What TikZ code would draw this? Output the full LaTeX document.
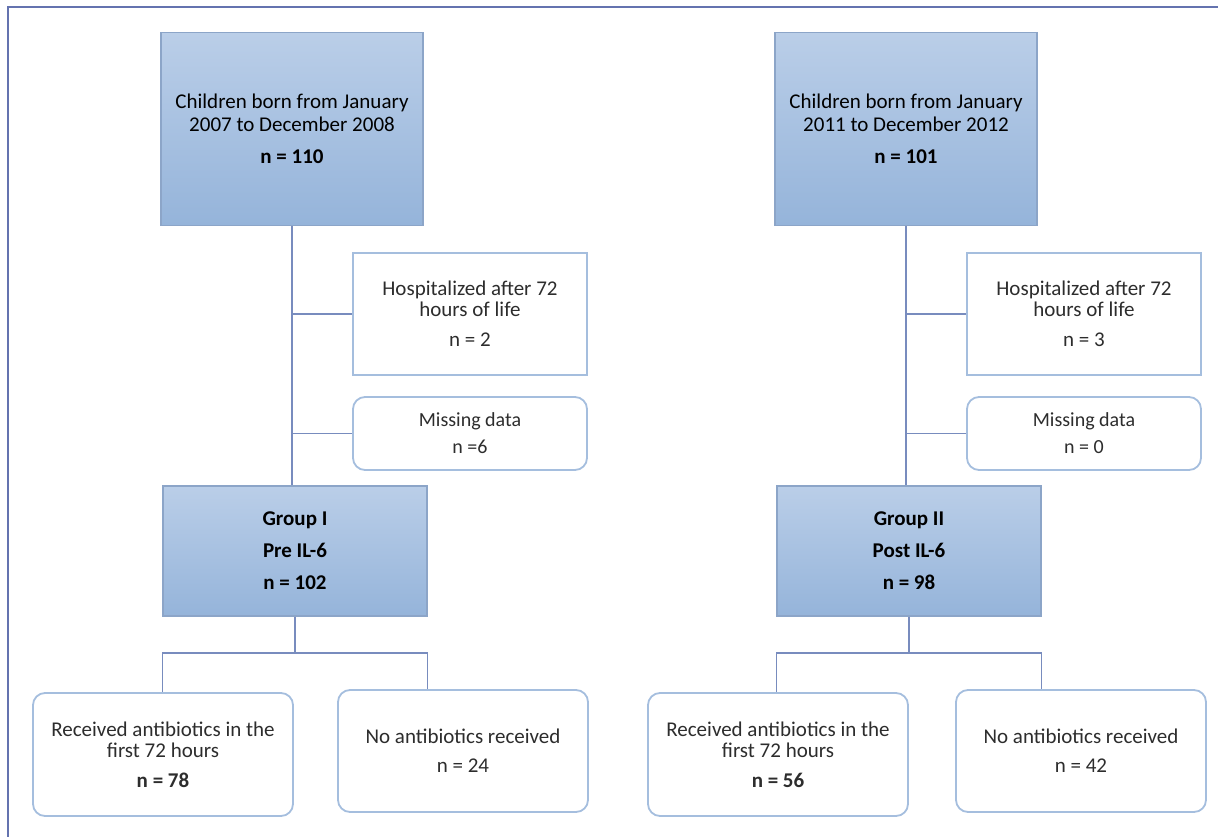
\documentclass[tikz,border=0pt]{standalone}
\usepackage{fontspec}
\setmainfont{Carlito}
\definecolor{framec}{RGB}{100,115,175}
\definecolor{linec}{RGB}{120,140,190}
\definecolor{bluetop}{RGB}{186,206,232}
\definecolor{bluebot}{RGB}{149,180,218}
\definecolor{blueedge}{RGB}{140,165,200}
\definecolor{whiteedge}{RGB}{165,190,222}
\definecolor{txt}{RGB}{45,45,45}
\tikzset{
  bluebox/.style={draw=blueedge, line width=1.2pt, top color=bluetop, bottom color=bluebot,
    align=center, inner sep=0pt, text=black},
  whitebox/.style={draw=whiteedge, line width=1.8pt, fill=white, align=center, inner sep=0pt, text=txt},
  roundbox/.style={whitebox, rounded corners=12pt},
  conn/.style={draw=linec, line width=1.3pt},
  bigtxt/.style={font=\fontsize{21}{23}\selectfont},
  grptxt/.style={font=\bfseries\fontsize{21}{32}\selectfont},
  midtxt/.style={font=\fontsize{21}{21}\selectfont},
  smtxt/.style={font=\fontsize{20}{21}\selectfont},
}
\begin{document}
\begin{tikzpicture}[x=1pt,y=-1pt]
\useasboundingbox (0,0) rectangle (1218,837);
\draw[framec, line width=2pt] (8,837) -- (8,7) -- (1218,7);

% ---------- left column ----------
\node[bluebox, bigtxt, minimum width=262pt, minimum height=193pt] (tA) at (292,129)
  {Children born from January\\2007 to December 2008\\[9pt]\textbf{n = 110}};
\node[whitebox, midtxt, minimum width=234pt, minimum height=122pt] (hA) at (470,314)
  {Hospitalized after 72\\hours of life\\[9pt]n = 2};
\node[roundbox, smtxt, minimum width=234pt, minimum height=73pt] (mA) at (470,433.5)
  {Missing data\\[6pt]n =6};
\node[bluebox, grptxt, minimum width=264pt, minimum height=130pt] (gA) at (295,551)
  {Group I\\Pre IL-6\\n = 102};
\node[roundbox, midtxt, minimum width=260pt, minimum height=123pt] (rA) at (163,754.5)
  {Received antibiotics in the\\first 72 hours\\[9pt]\textbf{n = 78}};
\node[roundbox, midtxt, minimum width=250pt, minimum height=122pt] (nA) at (463,751)
  {No antibiotics received\\[8pt]n = 24};
\coordinate (bA) at (295,653);

\draw[conn] (tA.south) -- (tA.south |- gA.north);
\draw[conn] (tA.south |- hA.west) -- (hA.west);
\draw[conn] (tA.south |- mA.west) -- (mA.west);
\draw[conn] (gA.south) -- (bA);
\draw[conn] (gA.south west |- bA) -- (gA.south east |- bA);
\draw[conn] (gA.south west |- bA) -- (gA.south west |- rA.north);
\draw[conn] (gA.south east |- bA) -- (gA.south east |- nA.north);

% ---------- right column ----------
\node[bluebox, bigtxt, minimum width=262pt, minimum height=193pt] (tB) at (906,129)
  {Children born from January\\2011 to December 2012\\[9pt]\textbf{n = 101}};
\node[whitebox, midtxt, minimum width=234pt, minimum height=122pt] (hB) at (1084,314)
  {Hospitalized after 72\\hours of life\\[9pt]n = 3};
\node[roundbox, smtxt, minimum width=234pt, minimum height=73pt] (mB) at (1084,433.5)
  {Missing data\\[6pt]n = 0};
\node[bluebox, grptxt, minimum width=264pt, minimum height=130pt] (gB) at (909,551)
  {Group II\\Post IL-6\\n = 98};
\node[roundbox, midtxt, minimum width=260pt, minimum height=123pt] (rB) at (778,754.5)
  {Received antibiotics in the\\first 72 hours\\[9pt]\textbf{n = 56}};
\node[roundbox, midtxt, minimum width=250pt, minimum height=122pt] (nB) at (1081,751)
  {No antibiotics received\\[8pt]n = 42};
\coordinate (bB) at (909,653);

\draw[conn] (tB.south) -- (tB.south |- gB.north);
\draw[conn] (tB.south |- hB.west) -- (hB.west);
\draw[conn] (tB.south |- mB.west) -- (mB.west);
\draw[conn] (gB.south) -- (bB);
\draw[conn] (gB.south west |- bB) -- (gB.south east |- bB);
\draw[conn] (gB.south west |- bB) -- (gB.south west |- rB.north);
\draw[conn] (gB.south east |- bB) -- (gB.south east |- nB.north);
\end{tikzpicture}
\end{document}
